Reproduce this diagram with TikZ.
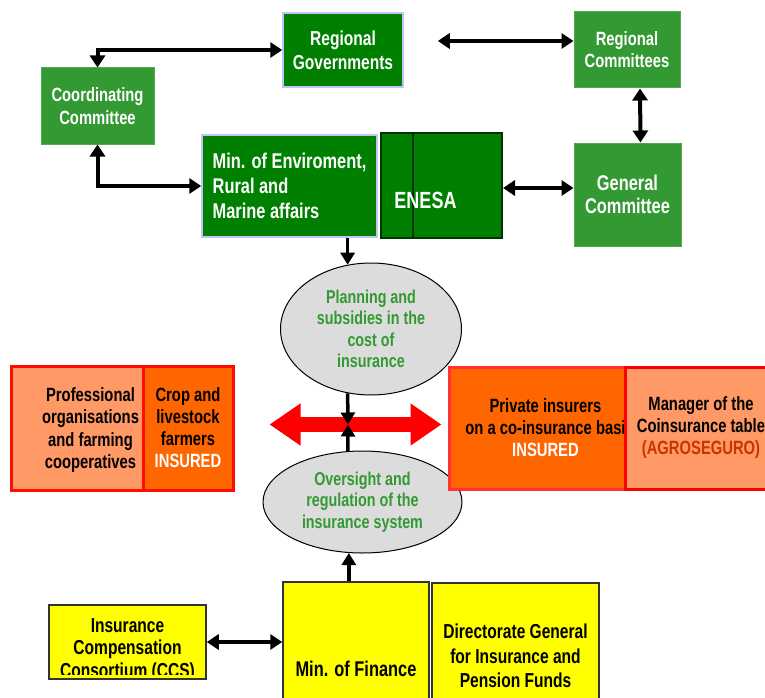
\documentclass[tikz,border=0pt]{standalone}
\usepackage{fontspec}
\setmainfont{Liberation Sans}[FakeStretch=0.77]
\usepackage{tikz}
\usetikzlibrary{arrows.meta,positioning,shapes.geometric,calc}
\definecolor{dgreen}{HTML}{008000}
\definecolor{mgreen}{HTML}{339933}
\definecolor{lilac}{HTML}{C4C4F4}
\definecolor{enesaedge}{HTML}{003300}
\definecolor{ovalfill}{HTML}{DCDCDC}
\definecolor{salmon}{HTML}{FF9966}
\definecolor{orng}{HTML}{FF6600}
\definecolor{agro}{HTML}{CC3300}
\definecolor{yel}{HTML}{FFFF00}
\newcommand{\bfsz}[2]{\fontsize{#1}{#2}\selectfont\bfseries}

\begin{document}
\begin{tikzpicture}[x=1pt,y=-1pt,
		box/.style={rectangle, inner sep=0pt, align=center},
		gov/.style={box, fill=dgreen, draw=lilac, line width=1.5pt, text=white},
		com/.style={box, fill=mgreen, draw=mgreen!85!white, line width=1pt, text=white},
		oval/.style={ellipse, fill=ovalfill, draw=black, line width=1pt,
				inner sep=0pt, align=center, text=mgreen, font=\bfsz{18.6}{21.5}},
		agr/.style={box, line width=3pt, font=\bfsz{19.2}{22}},
		fin/.style={box, fill=yel, draw=black!80, line width=1.5pt},
		dbl/.style={{Triangle[length=12pt,width=15pt]}-{Triangle[length=12pt,width=15pt]},
				line width=4pt},
		sgl/.style={-{Triangle[length=12pt,width=14pt]}, line width=3.5pt},
		bigarr/.style={{Triangle[length=31pt,width=40pt]}-{Triangle[length=31pt,width=40pt]},
				line width=15pt, draw=red},
		]
		\clip (0,0) rectangle (765,698);

		% ---- Top: administrations and committees ----
		\node[gov, minimum width=120pt, minimum height=74pt, font=\bfsz{20.2}{24}]
		(rg) at (343,50) {Regional\\Governments};
		\node[com, minimum width=106pt, minimum height=76pt, font=\bfsz{19.2}{22}]
		(rc) at (627,50) {Regional\\Committees};
		\node[com, minimum width=113pt, minimum height=76pt, font=\bfsz{19.2}{23.5}]
		(coord) at (97.5,106) {Coordinating\\Committee};
		\node[gov, minimum width=175pt, minimum height=102pt, align=left,
			font=\bfsz{21.3}{25}]
		(minenv) at (289.5,186) {Min. of Enviroment,\\Rural and\\Marine affairs};
		\node[box, fill=dgreen, draw=enesaedge, line width=2pt,
			minimum width=121pt, minimum height=105pt]
		(enesa) at (441.5,185.5) {};
		\draw[enesaedge, line width=1.5pt] ([xshift=33pt]enesa.north west)
		-- ([xshift=33pt]enesa.south west);
		\node[text=white, font=\bfsz{23.4}{26}] (enesatxt) at (425.5,200) {ENESA};
		\node[com, minimum width=107pt, minimum height=103pt, font=\bfsz{21.3}{23}]
		(gc) at (627.5,194.5) {General\\Committee};

		% ---- Centre: the two functions ----
		\node[oval, minimum width=181pt, minimum height=132pt]
		(plan) at (371,329) {Planning and\\subsidies in the\\cost of\\insurance};
		\node[oval, minimum width=199pt, minimum height=102pt]
		(over) at (362.5,502) {Oversight and\\regulation of the\\insurance system};

		% ---- Farmers and insurers ----
		\node[agr, fill=salmon, draw=red!90!orange, minimum width=222pt, minimum height=124pt]
		(farm) at (122,428) {};
		\node[agr, fill=orng, draw=red!90!orange, minimum width=90pt, minimum height=124pt]
		(crop) at (188,428) {Crop and\\livestock\\farmers\\\textcolor{white}{INSURED}};
		\node[font=\bfsz{19.2}{22.3}, align=center, inner sep=0pt]
		(prof) at (90.5,430) {Professional\\organisations\\and farming\\cooperatives};
		\node[agr, fill=orng, draw=red!80!white, minimum width=193pt, minimum height=122pt]
		(ins) at (545.5,428) {Private insurers\\on a co-insurance basi\\\textcolor{white}{INSURED}};
		\node[agr, fill=salmon, draw=red, minimum width=152pt, minimum height=122pt]
		(mgr) at (701,428) {Manager of the\\Coinsurance table\\\textcolor{agro}{(AGROSEGURO)}};

		% ---- Bottom: finance ----
		\node[fin, minimum width=157pt, minimum height=74pt] (ics) at (127.5,642) {};
		\begin{scope}
			\clip ([yshift=5pt]ics.south west) rectangle (ics.north east);
			\node[font=\bfsz{20.2}{22.5}, align=center, inner sep=0pt]
			(icstxt) at (127.5,650) {Insurance\\Compensation\\Consortium (CCS)};
		\end{scope}
		\node[fin, minimum width=146pt, minimum height=174pt, font=\bfsz{21.3}{24}]
		(mof) at (356,669) {Min. of Finance};
		\node[fin, minimum width=167pt, minimum height=146pt, font=\bfsz{20.2}{24.5}]
		(dg) at (515.5,656) {Directorate General\\for Insurance and\\Pension Funds};

		% ---- Connectors ----
		\draw[dbl] (rg.west) -| (coord.north);
		\draw[dbl] (coord.south) |- (minenv.west);
		\draw[dbl] ([xshift=34pt,yshift=9pt]rg.east) -- ([yshift=9pt]rc.west);
		\draw[dbl] ([xshift=13pt]rc.south) -- ([xshift=13pt]gc.north);
		\draw[dbl] ([yshift=-2.5pt]enesa.east) -- ([yshift=-2.5pt]enesa.east -| gc.west);
		\draw[sgl] (minenv.south -| plan.110) -- (plan.110);

		\coordinate (hub) at (348,424.5);
		\draw[bigarr] ([xshift=35pt]farm.east |- hub) -- ([xshift=-6pt]ins.west |- hub);
		\draw[sgl] (plan.250) -- (hub);
		\draw[sgl] (over.106) -- (hub);
		\draw[sgl] (mof.north -| over.255) -- (over.255);
		\draw[dbl] (ics.east) -- (ics.east -| mof.west);

	\end{tikzpicture}
\end{document}
